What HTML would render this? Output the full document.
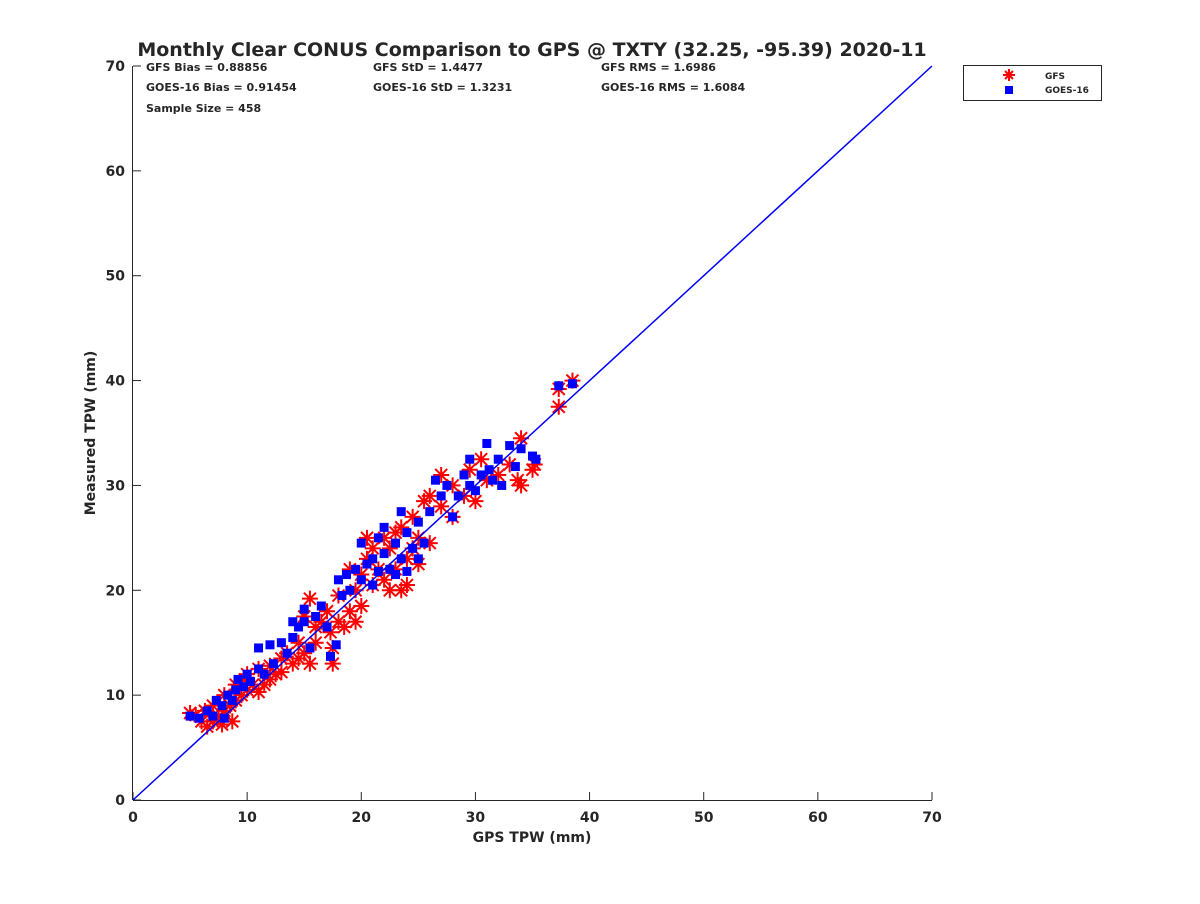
<!DOCTYPE html>
<html><head><meta charset="utf-8"><style>
body{margin:0;background:#fff;font-family:"DejaVu Sans",sans-serif;}
svg text{font-family:"DejaVu Sans","Liberation Sans",sans-serif;font-weight:bold;fill:#262626;}
</style></head><body>
<svg width="1200" height="900">
<script>
const gfsX=[5,5.5,6,6.3,6.5,7,7,7.5,7.8,8,8,8.5,8.7,9,9,9.5,9.8,10,10,10.5,11,11,11.5,12,12,12.5,13,13,13.5,14,14.5,14.5,15,15,15.5,15.5,16,16,16.5,17,17.3,17.5,17.5,18,18,18.5,19,19,19.5,19.5,20,20,20.5,20.5,21,21,21.5,22,22,22.5,22.5,23,23,23.5,23.5,24,24,24.5,24.5,25,25,25.5,26,26,27,27,28,28,29,29.5,30,30.5,31,32,33,34,34,33.7,35,35.2,37.3,37.3,38.5];
const gfsY=[8.3,8.1,7.5,8.5,7,7.5,9,8,7.2,8.5,10,9,7.5,9.5,11,10,11.5,10.5,12,11,10.3,12.5,11,12.8,11.5,12,13.5,12.2,14,13,15,13.5,17.5,14,19.2,13,16.5,15,17,18,16,13,14.5,17,19.5,16.5,22,18,20,17,21.5,18.5,25,23,24,20.5,22,25,21,20,24,25.5,22,20,26,23,20.5,27,24,25,22.5,28.5,24.5,29,31,28,30,27,29,31.5,28.5,32.5,30.5,31,32,34.5,30,30.5,31.5,32,37.5,39.2,40];
const goesX=[5,5.8,6.5,7,7.3,7.8,8,8.3,8.7,9,9.2,9.7,10,10.3,11,11,11.5,12,12.3,13,13.5,14,14,14.5,15,15,15.5,16,16.5,17,17.3,17.8,18,18.3,18.7,19,19.5,20,20,20.5,21,21,21.5,21.5,22,22,22.5,23,23,23.5,23.5,24,24,24.5,25,25,25.5,26,26.5,27,27.5,28,28.5,29,29.5,29.5,30,30.5,31,31.2,31.5,32,32.3,33,33.5,34,35,35.3,37.3,38.5];
const goesY=[8,7.8,8.5,8,9.5,9,7.8,10,9.5,10.5,11.5,10.8,12,11.3,12.5,14.5,12,14.8,13,15,14,15.5,17,16.5,17,18.2,14.5,17.5,18.5,16.5,13.7,14.8,21,19.5,21.5,20,22,21,24.5,22.5,23,20.5,25,21.8,23.5,26,22,24.5,21.5,27.5,23,25.5,21.8,24,26.5,23,24.5,27.5,30.5,29,30,27,29,31,30,32.5,29.5,31,34,31.5,30.5,32.5,30,33.8,31.8,33.5,32.8,32.5,39.5,39.7];
const xTicks=[0,10,20,30,40,50,60,70];
const yTicks=[0,10,20,30,40,50,60,70];
</script>
<text x="532" y="56" font-size="19" text-anchor="middle">Monthly Clear CONUS Comparison to GPS @ TXTY (32.25, -95.39) 2020-11</text>
<g id="plot"></g>
<g font-size="11">
<text x="146" y="71">GFS Bias = 0.88856</text>
<text x="146" y="91">GOES-16 Bias = 0.91454</text>
<text x="146" y="112">Sample Size = 458</text>
<text x="373" y="71">GFS StD = 1.4477</text>
<text x="373" y="91">GOES-16 StD = 1.3231</text>
<text x="601" y="71">GFS RMS = 1.6986</text>
<text x="601" y="91">GOES-16 RMS = 1.6084</text>
</g>
<text x="532" y="842" font-size="14" text-anchor="middle">GPS TPW (mm)</text>
<text transform="translate(95,433) rotate(-90)" font-size="14" text-anchor="middle">Measured TPW (mm)</text>
<g>
<rect x="963.5" y="65.5" width="138" height="35" fill="#fff" stroke="#262626"/>
<g stroke="#f00" stroke-width="2"><line x1="1009" y1="69" x2="1009" y2="81"/><line x1="1003" y1="75" x2="1015" y2="75"/><line x1="1005" y1="71" x2="1013" y2="79"/><line x1="1013" y1="71" x2="1005" y2="79"/></g>
<rect x="1005" y="86" width="8" height="8" fill="#00f"/>
<text x="1045" y="79" font-size="9">GFS</text>
<text x="1045" y="93" font-size="9">GOES-16</text>
</g>
<script>
const X0=133,X1=932,Y0=800,Y1=66;
const sx=v=>X0+(X1-X0)*v/70, sy=v=>Y0-(Y0-Y1)*v/70;
const NS='http://www.w3.org/2000/svg';
const plot=document.getElementById('plot');
function mk(t,a){const e=document.createElementNS(NS,t);for(const k in a)e.setAttribute(k,a[k]);return e;}
const axes=mk('g',{stroke:'#262626','stroke-width':1});


axes.appendChild(mk('line',{x1:X0,y1:Y0+.5,x2:X1,y2:Y0+.5}));
axes.appendChild(mk('line',{x1:X0-.5,y1:Y0,x2:X0-.5,y2:Y1}));
plot.appendChild(axes);
xTicks.forEach(v=>{
 axes.appendChild(mk('line',{x1:sx(v),y1:Y0,x2:sx(v),y2:Y0-8}));
 const t=mk('text',{x:sx(v),y:Y0+22,'font-size':14,'text-anchor':'middle'});t.textContent=v;
 
 
 plot.appendChild(t);});
yTicks.forEach(v=>{
 axes.appendChild(mk('line',{x1:X0,y1:sy(v),x2:X0+8,y2:sy(v)}));
 const t=mk('text',{x:X0-8,y:sy(v)+5,'font-size':14,'text-anchor':'end'});t.textContent=v;
 
 
 plot.appendChild(t);});
const gg=mk('g',{stroke:'#f00','stroke-width':2});


plot.appendChild(gg);
gfsX.forEach((x,i)=>{const cx=sx(x),cy=sy(gfsY[i]),r=8,d=6;
 const p=mk('path',{d:`M${cx} ${cy-r}V${cy+r}M${cx-r} ${cy}H${cx+r}M${cx-d} ${cy-d}L${cx+d} ${cy+d}M${cx+d} ${cy-d}L${cx-d} ${cy+d}`});
 
 
 gg.appendChild(p);});
const bg=mk('g',{fill:'#00f'});


plot.appendChild(bg);
goesX.forEach((x,i)=>{const r=mk('rect',{x:sx(x)-4.5,y:sy(goesY[i])-4.5,width:9,height:9});
 
 
 bg.appendChild(r);});
const ln=mk('line',{x1:sx(0),y1:sy(0),x2:sx(70),y2:sy(70),stroke:'#00f','stroke-width':1.5});


plot.appendChild(ln);
</script>
</svg>
</body></html>
